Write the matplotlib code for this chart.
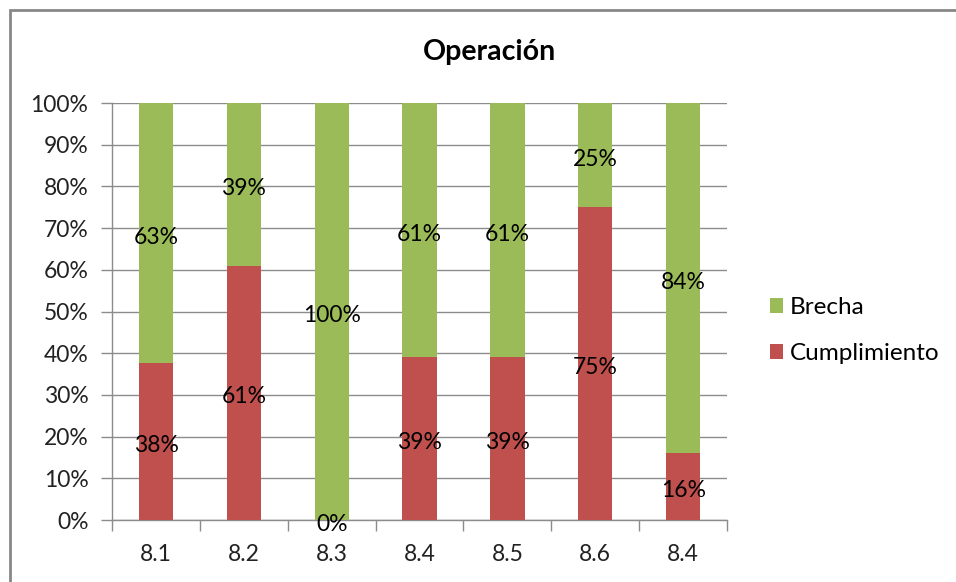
import numpy as np
import matplotlib.pyplot as plt
from matplotlib.patches import Rectangle

categories = ["8.1", "8.2", "8.3", "8.4", "8.5", "8.6", "8.4"]
cumplimiento = [38, 61, 0, 39, 39, 75, 16]
brecha = [63, 39, 100, 61, 61, 25, 84]
yticks = [0, 10, 20, 30, 40, 50, 60, 70, 80, 90, 100]

red = "#C0504D"
green = "#9BBB59"
grid = "#8C8C8C"

plt.rcParams['font.family'] = ['Lato', 'DejaVu Sans']

fig = plt.figure(figsize=(9.56, 5.82), dpi=100)
ax = fig.add_axes([0.1172, 0.1065, 0.6433, 0.7165])

# 100% stacked: normalise each column by its total
c = np.array(cumplimiento, dtype=float)
b = np.array(brecha, dtype=float)
tot = c + b
c_pct = c / tot * 100
b_pct = b / tot * 100

x = np.arange(len(categories))
w = 0.39
bc = ax.bar(x, c_pct, w, color=red, label="Cumplimiento", zorder=3)
bb = ax.bar(x, b_pct, w, bottom=c_pct, color=green, label="Brecha", zorder=3)

fs = 16.5
for cont, vals in [(bc, cumplimiento), (bb, brecha)]:
    txts = ax.bar_label(cont, labels=[f"{v}%" for v in vals], label_type='center',
                        fontsize=fs, color='black', zorder=5)
    for t in txts:
        t.set_y(t.get_position()[1] - 3)

ax.set_xlim(-0.5, len(categories) - 0.5)
ax.set_ylim(0, 100)
ax.set_yticks(yticks)
ax.set_yticklabels([f"{t}%" for t in yticks], fontsize=fs, color='#222222')
ax.set_xticks(x)
ax.set_xticklabels(categories, fontsize=fs, color='#222222')
ax.set_xticks(np.arange(len(categories) + 1) - 0.5, minor=True)
ax.tick_params(axis='x', which='major', length=0, pad=17)
ax.tick_params(axis='x', which='minor', length=8, color=grid, width=1)
ax.tick_params(axis='y', length=8, color=grid, width=1, pad=9)

ax.yaxis.grid(True, color=grid, linewidth=1, zorder=0)
for s in ['top', 'right']:
    ax.spines[s].set_visible(False)
for s in ['left', 'bottom']:
    ax.spines[s].set_color(grid)
    ax.spines[s].set_linewidth(1)

fig.text(0.512, 0.91, "Operación", ha='center', va='center',
         fontsize=20.5, fontweight='bold')

h, l = ax.get_legend_handles_labels()
fig.legend(h[::-1], l[::-1], loc='center left', bbox_to_anchor=(0.805, 0.432),
           frameon=False, fontsize=17.5, handlelength=0.55, handleheight=0.55,
           handletextpad=0.3, labelspacing=1.05, borderpad=0, borderaxespad=0)

# chart frame
fig.patches.append(Rectangle((10 / 956, -0.1), 1.2, 1.1 - 10 / 582,
                             transform=fig.transFigure, fill=False,
                             edgecolor='#878787', linewidth=2))

fig.savefig("out.png", dpi=100)
